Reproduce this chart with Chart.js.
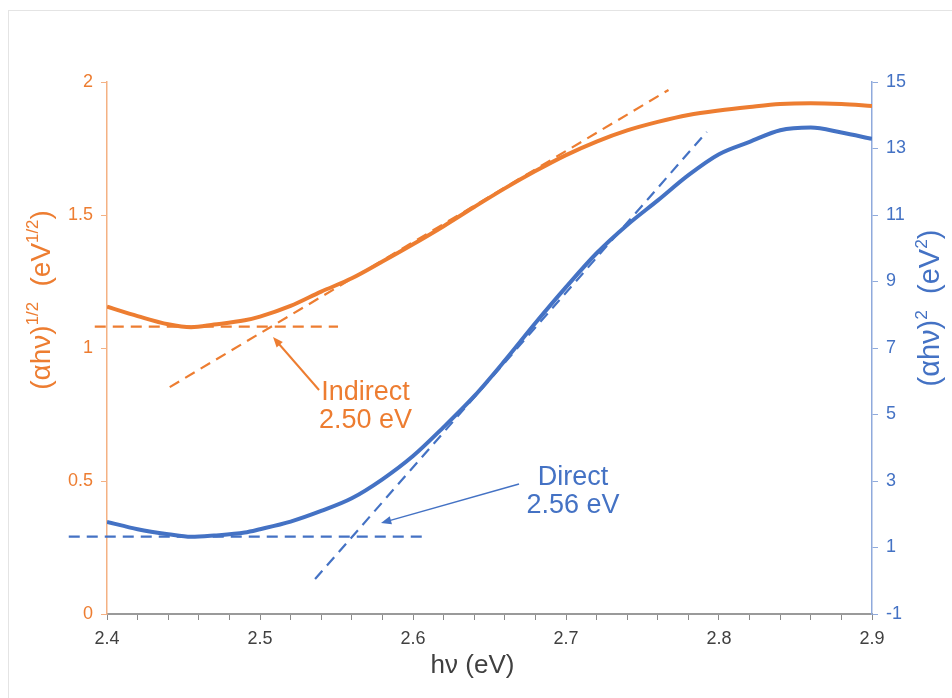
<!DOCTYPE html>
<html>
<head>
<meta charset="utf-8">
<script src="https://cdn.jsdelivr.net/npm/chart.js@4.4.1/dist/chart.umd.min.js"></script>
<style>
  body { margin: 0; background: #fff; overflow: hidden; }
  #frame { position: absolute; left: 8px; top: 10px; width: 1000px; height: 800px; border: 1px solid #e4e4e4; }
  #wrap { position: absolute; left: 0; top: 0; width: 952px; height: 698px; }
</style>
</head>
<body>
<div id="frame"></div>
<div id="wrap"><canvas id="chart"></canvas></div>
<script>
const ORANGE = "#ED7D31";
const BLUE = "#4472C4";
const FONT = "'Liberation Sans', Arial, sans-serif";

// photon energy (eV)
const energy = [2.40, 2.42, 2.44, 2.455, 2.47, 2.49, 2.50, 2.52, 2.54, 2.56, 2.58, 2.60, 2.62, 2.64,
  2.66, 2.68, 2.70, 2.72, 2.74, 2.76, 2.78, 2.80, 2.82, 2.84, 2.86, 2.88, 2.90];
// (ahv)^1/2, left axis
const indirect = [1.155, 1.120, 1.089, 1.078, 1.088, 1.104, 1.118, 1.158, 1.212, 1.262, 1.325, 1.390, 1.458, 1.530,
  1.600, 1.665, 1.725, 1.776, 1.818, 1.850, 1.876, 1.893, 1.906, 1.917, 1.920, 1.917, 1.910];
// (ahv)^2, right axis
const direct = [1.77, 1.55, 1.40, 1.32, 1.36, 1.45, 1.55, 1.78, 2.10, 2.48, 3.05, 3.75, 4.62, 5.55,
  6.62, 7.75, 8.83, 9.85, 10.70, 11.44, 12.20, 12.83, 13.20, 13.55, 13.63, 13.48, 13.29];

// fitted tangents / baselines
const indirectBaseX = [2.392, 2.551], indirectBaseY = [1.08, 1.08];
const indirectFitX = [2.441, 2.767], indirectFitY = [0.853, 1.970];
const directBaseX = [2.375, 2.607], directBaseY = [1.325, 1.325];
const directFitX = [2.536, 2.792], directFitY = [0.05, 13.5];

// callouts (x in eV, y in left-axis units)
const callouts = [
  { lines: ["Indirect", "2.50 eV"], color: ORANGE, x: 2.569, y: 0.831, from: [2.5386, 0.842], to: [2.5085, 1.041], lw: 2 },
  { lines: ["Direct", "2.56 eV"], color: BLUE, x: 2.7046, y: 0.513, from: [2.6693, 0.489], to: [2.5791, 0.342], lw: 1.5 }
];

const pts = (xs, ys) => xs.map((x, i) => ({ x, y: ys[i] }));

function drawRich(ctx, parts, cx, cy, rot, size, color) {
  ctx.save();
  ctx.translate(cx, cy);
  ctx.rotate(rot);
  ctx.fillStyle = color;
  ctx.textBaseline = "alphabetic";
  ctx.textAlign = "left";
  let total = 0;
  parts.forEach(p => {
    ctx.font = (p.sup ? size * 0.6 : size) + "px " + FONT;
    p.w = ctx.measureText(p.t).width;
    total += p.w;
  });
  let x = -total / 2;
  parts.forEach(p => {
    ctx.font = (p.sup ? size * 0.6 : size) + "px " + FONT;
    ctx.fillText(p.t, x, p.sup ? size * 0.35 - size * 0.42 : size * 0.35);
    x += p.w;
  });
  ctx.restore();
}

const overlay = {
  id: "overlay",
  afterDraw(chart) {
    const ctx = chart.ctx;
    const xs = chart.scales.x, yl = chart.scales.yL;
    const a = chart.chartArea;

    // axis titles
    drawRich(ctx, [{ t: "(αhν)" }, { t: "1/2", sup: true }, { t: "  (eV" }, { t: "1/2", sup: true }, { t: ")" }],
      a.left - 67, a.top + 218, -Math.PI / 2, 28, ORANGE);
    drawRich(ctx, [{ t: "(αhν)" }, { t: "2", sup: true }, { t: "  (eV" }, { t: "2", sup: true }, { t: ")" }],
      a.right + 57, a.top + 226, -Math.PI / 2, 29, BLUE);
    drawRich(ctx, [{ t: "hν (eV)" }], (a.left + a.right) / 2 - 17, a.bottom + 50, 0, 26, "#404040");

    // callouts
    callouts.forEach(c => {
      ctx.save();
      ctx.fillStyle = c.color;
      ctx.strokeStyle = c.color;
      ctx.font = "27px " + FONT;
      ctx.textAlign = "center";
      ctx.textBaseline = "middle";
      const tx = xs.getPixelForValue(c.x), ty = yl.getPixelForValue(c.y);
      c.lines.forEach((l, i) => ctx.fillText(l, tx, ty + i * 28));

      const x1 = xs.getPixelForValue(c.from[0]), y1 = yl.getPixelForValue(c.from[1]);
      const x2 = xs.getPixelForValue(c.to[0]), y2 = yl.getPixelForValue(c.to[1]);
      const ang = Math.atan2(y2 - y1, x2 - x1);
      const head = 11;
      ctx.lineWidth = c.lw;
      ctx.beginPath();
      ctx.moveTo(x1, y1);
      ctx.lineTo(x2 - Math.cos(ang) * head * 0.8, y2 - Math.sin(ang) * head * 0.8);
      ctx.stroke();
      ctx.beginPath();
      ctx.moveTo(x2, y2);
      ctx.lineTo(x2 - head * Math.cos(ang - 0.38), y2 - head * Math.sin(ang - 0.38));
      ctx.lineTo(x2 - head * Math.cos(ang + 0.38), y2 - head * Math.sin(ang + 0.38));
      ctx.closePath();
      ctx.fill();
      ctx.restore();
    });
  }
};

const dashed = (data, color, axis) => ({
  data, yAxisID: axis, borderColor: color, borderWidth: 2.2, borderDash: [11, 7],
  pointRadius: 0, tension: 0, clip: false, fill: false
});

new Chart(document.getElementById("chart"), {
  type: "line",
  data: {
    datasets: [
      { data: pts(energy, indirect), yAxisID: "yL", borderColor: ORANGE, borderWidth: 4, pointRadius: 0, tension: 0.4, cubicInterpolationMode: "monotone" },
      { data: pts(energy, direct), yAxisID: "yR", borderColor: BLUE, borderWidth: 4, pointRadius: 0, tension: 0.4, cubicInterpolationMode: "monotone" },
      dashed(pts(indirectBaseX, indirectBaseY), ORANGE, "yL"),
      dashed(pts(indirectFitX, indirectFitY), ORANGE, "yL"),
      dashed(pts(directBaseX, directBaseY), BLUE, "yR"),
      dashed(pts(directFitX, directFitY), BLUE, "yR")
    ]
  },
  options: {
    responsive: true,
    maintainAspectRatio: false,
    animation: false,
    layout: { padding: { top: 82, left: 0, right: 0, bottom: 0 } },
    plugins: { legend: { display: false }, tooltip: { enabled: false } },
    scales: {
      x: {
        type: "linear", min: 2.4, max: 2.9,
        afterFit: s => { s.height = 84; },
        border: { color: "#9a9a9a", width: 2 },
        grid: { drawOnChartArea: false, tickLength: 6, tickColor: "#8a8a8a", tickWidth: 1 },
        ticks: {
          stepSize: 0.02, autoSkip: false, maxRotation: 0, padding: 8,
          color: "#404040", font: { size: 18, family: FONT },
          callback: v => Math.abs(v * 10 - Math.round(v * 10)) < 1e-6 ? v.toFixed(1) : ""
        }
      },
      yL: {
        position: "left", min: 0, max: 2,
        afterFit: s => { s.width = 107; },
        border: { color: "#F4B183", width: 1.5 },
        grid: { drawOnChartArea: false, tickLength: 6, tickColor: "#F4B183" },
        ticks: { stepSize: 0.5, padding: 8, color: ORANGE, font: { size: 18, family: FONT },
          callback: v => String(+v.toFixed(2)) }
      },
      yR: {
        position: "right", min: -1, max: 15,
        afterFit: s => { s.width = 80; },
        border: { color: "#8FAADC", width: 1.5 },
        grid: { drawOnChartArea: false, tickLength: 6, tickColor: "#8FAADC" },
        ticks: { stepSize: 2, padding: 8, color: BLUE, font: { size: 18, family: FONT } }
      }
    }
  },
  plugins: [overlay]
});
</script>
</body>
</html>
